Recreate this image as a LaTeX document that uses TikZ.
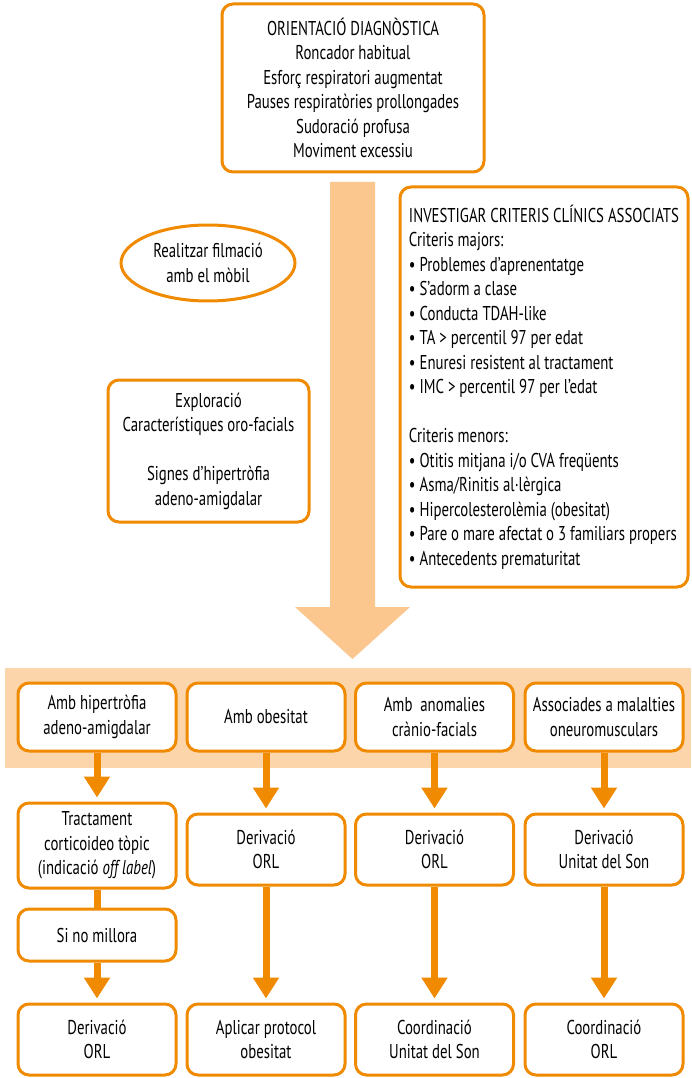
\documentclass[tikz,border=0pt]{standalone}
\usepackage{fontspec}
\setmainfont[FakeStretch=0.74]{PT Sans}
\usetikzlibrary{arrows.meta,shapes.geometric}
\definecolor{taronja}{RGB}{240,138,0}
\definecolor{fletxa}{RGB}{251,199,142}
\definecolor{franja}{RGB}{252,214,170}

\begin{document}
\begin{tikzpicture}[x=1pt, y=-1pt,
font=\fontsize{20}{24.5}\selectfont,
block/.style = {rectangle, rounded corners=11pt, draw=taronja, line width=3pt, fill=white, align=center, inner sep=0pt, minimum width=158pt},
oval/.style = {ellipse, draw=taronja, line width=3pt, fill=white, align=center, inner sep=0pt},
conn/.style = {draw=taronja, line width=7pt, -{Triangle[width=25pt,length=21pt]}, shorten >=4pt}]

\useasboundingbox (0,0) rectangle (691,1078);

% fletxa gran i franja
\fill[fletxa] (330,182) -- (375,182) -- (375,607) -- (410,607) -- (352.5,659) -- (295,607) -- (330,607) -- cycle;
\fill[franja] (5,668) rectangle (691,768);

\node[block, minimum width=262pt, minimum height=168pt] (orient) at (353,88)
  {ORIENTACIÓ DIAGNÒSTICA\\ Roncador habitual\\ Esforç respiratori augmentat\\
   Pauses respiratòries prollongades\\ Sudoració profusa\\ Moviment excessiu};

\node[oval, minimum width=174pt, minimum height=76pt] (film) at (208,263)
  {Realitzar filmació\\ amb el mòbil};

\node[block, minimum width=201pt, minimum height=142pt] (explor) at (208.5,451)
  {Exploració\\ Característiques oro-facials\\[24.5pt] Signes d’hipertròfia\\ adeno-amigdalar};

\node[block, align=left, minimum width=288pt, minimum height=400pt] (invest) at (544,387)
  {INVESTIGAR CRITERIS CLÍNICS ASSOCIATS\\ Criteris majors:\\
   • Problemes d’aprenentatge\\ • S’adorm a clase\\ • Conducta TDAH-like\\
   • TA > percentil 97 per edat\\ • Enuresi resistent al tractament\\
   • IMC > percentil 97 per l’edat\\[24.5pt]
   Criteris menors:\\ • Otitis mitjana i/o CVA freqüents\\ • Asma/Rinitis al·lèrgica\\
   • Hipercolesterolèmia (obesitat)\\ • Pare o mare afectat o 3 familiars propers\\
   • Antecedents prematuritat};

% fila 1
\node[block, minimum height=68pt] (hiper) at (97,717) {Amb hipertròfia\\ adeno-amigdalar};
\node[block, minimum height=68pt] (obes) at (266,717) {Amb obesitat};
\node[block, minimum height=68pt] (crani) at (434.5,717) {Amb\ \ anomalies\\ crànio-facials};
\node[block, minimum height=68pt] (neuro) at (604,717) {Associades a malalties\\ oneuromusculars};

% fila 2
\node[block, minimum height=85pt] (tract) at (97,845.5) {Tractament\\ corticoideo tòpic\\ (indicació \textit{off label})};
\node[block, minimum height=71pt] (derB) at (266,849.5) {Derivació\\ ORL};
\node[block, minimum height=71pt] (derC) at (434.5,849.5) {Derivació\\ ORL};
\node[block, minimum height=71pt] (derD) at (604,849.5) {Derivació\\ Unitat del Son};

\node[block, minimum height=52pt] (millora) at (97,935) {Si no millora};

% fila 3
\node[block, minimum height=71pt] (derA) at (97,1039.5) {Derivació\\ ORL};
\node[block, minimum height=71pt] (proto) at (266,1039.5) {Aplicar protocol\\ obesitat};
\node[block, minimum height=71pt] (coordC) at (434.5,1039.5) {Coordinació\\ Unitat del Son};
\node[block, minimum height=71pt] (coordD) at (604,1039.5) {Coordinació\\ ORL};

\draw[conn] (hiper) -- (tract);
\draw[conn] (obes) -- (derB);
\draw[conn] (crani) -- (derC);
\draw[conn] (neuro) -- (derD);
\draw[draw=taronja, line width=7pt] (tract) -- (millora);
\draw[conn] (millora) -- (derA);
\draw[conn] (derB) -- (proto);
\draw[conn] (derC) -- (coordC);
\draw[conn] (derD) -- (coordD);
\end{tikzpicture}
\end{document}
